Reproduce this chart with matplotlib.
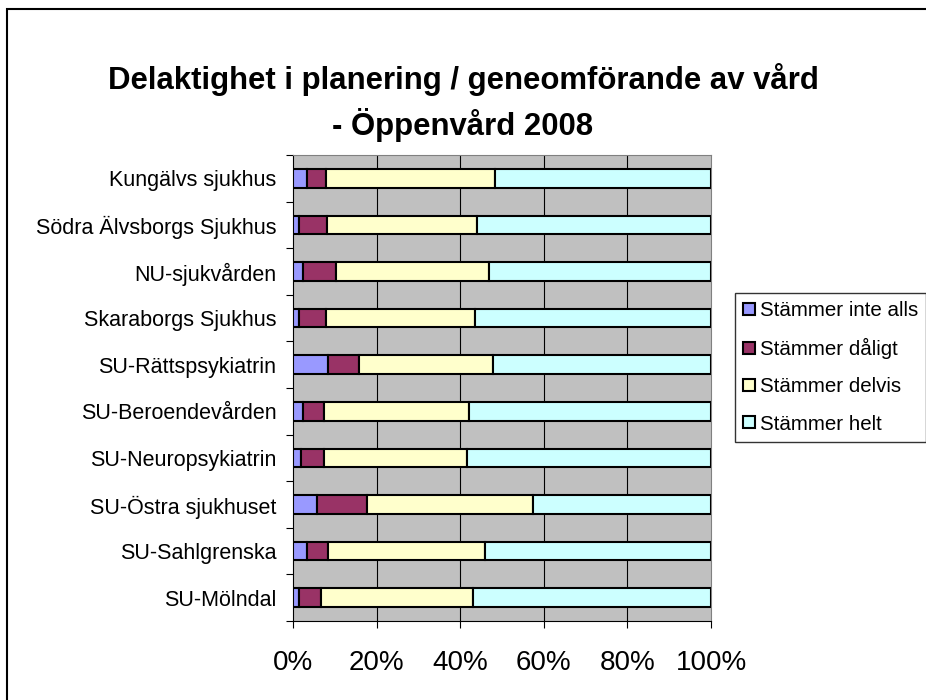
import numpy as np
import matplotlib
matplotlib.use("Agg")
import matplotlib.pyplot as plt
from matplotlib.patches import Rectangle

plt.rcParams['font.family'] = ['Liberation Sans', 'DejaVu Sans']

# sjukhus, uppifrån och ned
categories = ["Kungälvs sjukhus", "Södra Älvsborgs Sjukhus", "NU-sjukvården",
              "Skaraborgs Sjukhus", "SU-Rättspsykiatrin", "SU-Beroendevården",
              "SU-Neuropsykiatrin", "SU-Östra sjukhuset", "SU-Sahlgrenska", "SU-Mölndal"]

inte_alls = [3.3, 1.5, 2.4, 1.5, 8.3, 2.5, 2.0, 5.7, 3.3, 1.4]
daligt    = [4.5, 6.7, 7.8, 6.3, 7.6, 4.9, 5.3, 12.1, 5.1, 5.4]
delvis    = [40.5, 35.9, 36.8, 35.8, 32.0, 34.7, 34.4, 39.7, 37.6, 36.3]
helt      = [51.7, 55.9, 53.0, 56.4, 52.1, 57.9, 58.3, 42.5, 54.0, 56.9]

series_names = ["Stämmer inte alls", "Stämmer dåligt", "Stämmer delvis", "Stämmer helt"]
colors = ["#9999FF", "#993366", "#FFFFCC", "#CCFFFF"]

x_ticks = [0, 20, 40, 60, 80, 100]
x_labels = ["0%", "20%", "40%", "60%", "80%", "100%"]

fig = plt.figure(figsize=(9.26, 7), dpi=100)
ax = fig.add_axes([293/926, 1 - 621/700, (711 - 293)/926, (621 - 155)/700])
ax.set_facecolor("#C0C0C0")

y = np.arange(len(categories))
left = np.zeros(len(categories))
bars = []
for vals, name, c in zip([inte_alls, daligt, delvis, helt], series_names, colors):
    b = ax.barh(y, vals, left=left, height=0.4, color=c, edgecolor="black",
                linewidth=1.5, label=name, zorder=3)
    bars.append(b)
    left = left + np.array(vals)

ax.set_xlim(0, 100)
ax.set_ylim(len(categories) - 0.5, -0.5)

ax.set_xticks(x_ticks)
ax.set_xticklabels(x_labels, fontsize=20)
ax.tick_params(axis="x", length=5, width=0.8, pad=16, color="black")
for gx in x_ticks[1:-1]:
    ax.axvline(gx, color="black", linewidth=0.8, zorder=1)

ax.set_yticks(y)
ax.set_yticklabels(categories, fontsize=15.5)
ax.tick_params(axis="y", which="major", length=0, pad=12)
ax.set_yticks(np.arange(len(categories) + 1) - 0.5, minor=True)
ax.tick_params(axis="y", which="minor", length=5, width=0.8, color="black")

ax.spines["left"].set_color("black")
ax.spines["bottom"].set_color("black")
ax.spines["top"].set_color("#808080")
ax.spines["right"].set_color("#808080")

fig.text(0.5, 1 - 80/700, "Delaktighet i planering / geneomförande av vård",
         ha="center", va="center", fontsize=22.4, fontweight="bold")
fig.text(0.5, 1 - 125/700, "- Öppenvård 2008",
         ha="center", va="center", fontsize=22.4, fontweight="bold")

leg = fig.legend(handles=bars, loc="upper left", bbox_to_anchor=(735/926, 1 - 293/700),
                 fontsize=14.8, frameon=True, fancybox=False, labelspacing=0.88,
                 handlelength=0.55, handleheight=0.55, handletextpad=0.25,
                 borderpad=0.4, borderaxespad=0)
leg.get_frame().set_edgecolor("black")
leg.get_frame().set_linewidth(1.0)

# ram runt hela diagrammet
fig.patches.append(Rectangle((7/926, -0.1), 1.1, 1.1 - 9/700, transform=fig.transFigure,
                             fill=False, edgecolor="black", linewidth=1.5))

fig.savefig("out.png", dpi=100)
